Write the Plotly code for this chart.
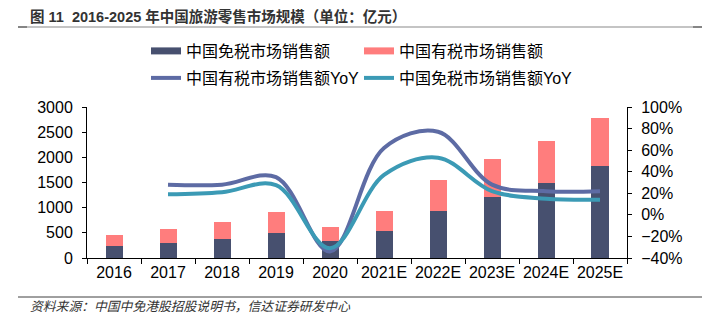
import plotly.graph_objects as go

categories = ["2016", "2017", "2018", "2019", "2020", "2021E", "2022E", "2023E", "2024E", "2025E"]
duty_free_sales = [232, 292, 378, 505, 332, 538, 942, 1215, 1487, 1826]
dutiable_sales = [233, 286, 333, 411, 285, 398, 598, 743, 844, 949]
yoy_purple = [None, 28, 28, 35, -34, 62, 77, 28, 22, 22]
yoy_teal = [None, 19, 21, 27.5, -31, 37, 53, 22, 15, 14]

name_df = "中国免税市场销售额"
name_dt = "中国有税市场销售额"
name_yoy_purple = "中国有税市场销售额YoY"
name_yoy_teal = "中国免税市场销售额YoY"

C_NAVY = "#47506F"
C_PINK = "#FF7D7D"
C_PURPLE = "#5D6BA4"
C_TEAL = "#3B9AB5"

W, H = 714, 322
L, R, T, B = 87, 87, 107, 64
PW, PH = W - L - R, H - T - B
FONT = "Liberation Sans, Arial, Noto Sans CJK SC, sans-serif"


def px_x(px):
    return (px - L) / PW


def px_y(py):
    return (H - B - py) / PH


fig = go.Figure()
fig.add_trace(go.Bar(x=categories, y=duty_free_sales, name=name_df, marker_color=C_NAVY,
                     marker_line_width=0, showlegend=False))
fig.add_trace(go.Bar(x=categories, y=dutiable_sales, name=name_dt, marker_color=C_PINK,
                     marker_line_width=0, showlegend=False))
fig.add_trace(go.Scatter(x=categories, y=yoy_purple, name=name_yoy_purple, mode="lines",
                         line=dict(color=C_PURPLE, width=4, shape="spline", smoothing=1.0),
                         yaxis="y2", legend="legend2"))
fig.add_trace(go.Scatter(x=categories, y=yoy_teal, name=name_yoy_teal, mode="lines",
                         line=dict(color=C_TEAL, width=4, shape="spline", smoothing=1.0),
                         yaxis="y2", legend="legend2"))
# legend swatches for the bar series (wide rectangles, as in the reference)
fig.add_trace(go.Scatter(x=[None], y=[None], name=name_df, mode="lines",
                         line=dict(color=C_NAVY, width=7), legend="legend"))
fig.add_trace(go.Scatter(x=[None], y=[None], name=name_dt, mode="lines",
                         line=dict(color=C_PINK, width=7), legend="legend"))

legend_common = dict(orientation="h", xanchor="left", yanchor="middle", traceorder="normal",
                     font=dict(family=FONT, size=16, color="#000"),
                     bgcolor="rgba(0,0,0,0)", borderwidth=0,
                     entrywidth=168, entrywidthmode="pixels", itemclick=False)

fig.update_layout(
    width=W, height=H,
    margin=dict(l=L, r=R, t=T, b=B),
    paper_bgcolor="white", plot_bgcolor="white",
    barmode="stack", bargap=0.685,
    font=dict(family=FONT, size=16, color="#000"),
    xaxis=dict(type="category", showline=True, linecolor="#000", linewidth=1,
               ticks="outside", ticklen=5, tickcolor="#000", tickson="boundaries",
               tickangle=0, tickfont=dict(size=16), showgrid=False),
    yaxis=dict(range=[0, 3000], dtick=500, showline=True, linecolor="#000", linewidth=1,
               ticks="outside", ticklen=4, tickcolor="#000", showgrid=False,
               zeroline=False, tickfont=dict(size=16), ticklabelstandoff=6),
    yaxis2=dict(range=[-40, 100], dtick=20, overlaying="y", side="right", ticksuffix="%",
                showline=True, linecolor="#000", linewidth=1, ticks="outside", ticklen=4,
                tickcolor="#000", showgrid=False, zeroline=False, tickfont=dict(size=16),
                ticklabelstandoff=6),
    legend=dict(x=px_x(146), y=px_y(51), **legend_common),
    legend2=dict(x=px_x(146), y=px_y(78), **legend_common),
)

# title
fig.add_annotation(text="<b>图 11  2016-2025 年中国旅游零售市场规模（单位：亿元）</b>",
                   xref="paper", yref="paper", x=px_x(28), y=px_y(16),
                   xanchor="left", yanchor="middle", showarrow=False,
                   font=dict(family=FONT, size=14.5, color="#333"))
fig.add_shape(type="line", xref="paper", yref="paper", x0=px_x(18), x1=px_x(702),
              y0=px_y(27), y1=px_y(27), line=dict(color="#B0B0B0", width=1.5))
fig.add_shape(type="line", xref="paper", yref="paper", x0=px_x(18), x1=px_x(27),
              y0=px_y(27), y1=px_y(27), line=dict(color="#707070", width=1.5))
fig.add_shape(type="line", xref="paper", yref="paper", x0=px_x(693), x1=px_x(702),
              y0=px_y(27), y1=px_y(27), line=dict(color="#707070", width=1.5))
# footer
fig.add_shape(type="line", xref="paper", yref="paper", x0=px_x(18), x1=px_x(702),
              y0=px_y(297), y1=px_y(297), line=dict(color="#404040", width=1))
fig.add_annotation(text="<i>资料来源：中国中免港股招股说明书，信达证券研发中心</i>",
                   xref="paper", yref="paper", x=px_x(28), y=px_y(306),
                   xanchor="left", yanchor="middle", showarrow=False,
                   font=dict(family=FONT, size=12.8, color="#333"))

fig.write_html("out.html")
